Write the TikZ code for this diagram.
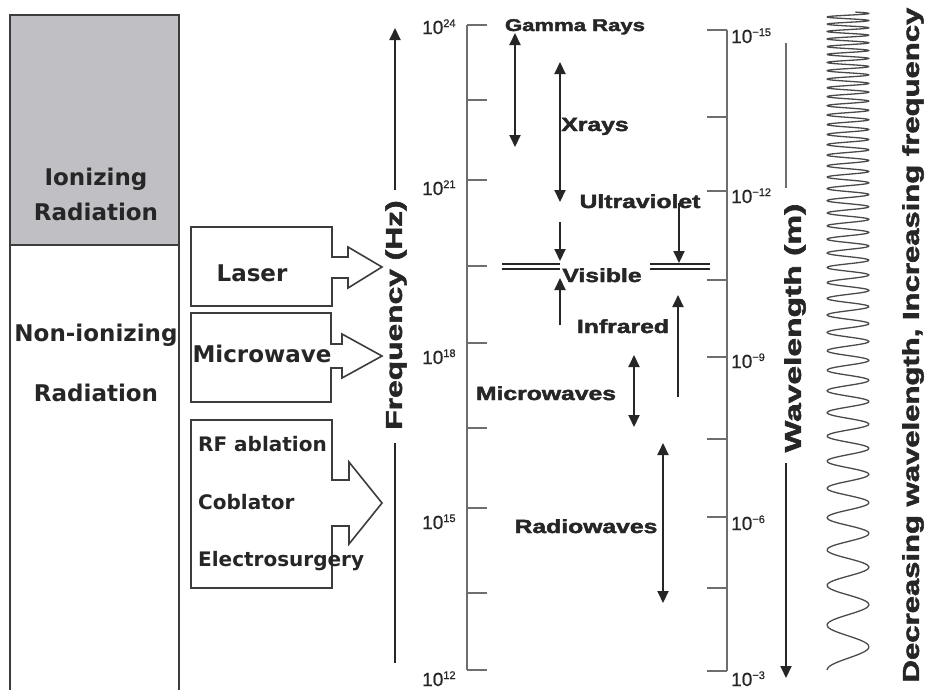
\documentclass[tikz,border=0pt]{standalone}
\usepackage{fontspec}
\usepackage{graphicx}
\usetikzlibrary{arrows.meta}
\newfontfamily\dvfont{DejaVu Sans}
\newfontfamily\lsfont{Liberation Sans}[FakeBold=0.6]
\newfontfamily\hvfont{Liberation Sans}[BoldFeatures={FakeBold=2}]
\definecolor{ink}{HTML}{262626}
\definecolor{axisc}{HTML}{6E6E6E}
\definecolor{boxline}{HTML}{3C3C3C}
\definecolor{ionfill}{HTML}{C0C0C4}
\definecolor{wavec}{HTML}{4A4A4A}
\newcommand\bandw[1]{\scalebox{1.3}[1]{#1}}
\newcommand\tenpow[1]{10\raisebox{7pt}{\fontsize{11}{11}\selectfont#1}}
\begin{document}
\begin{tikzpicture}[x=1pt,y=-1pt,
  >={Triangle[length=12pt,width=11pt]},
  lefttxt/.style={font=\dvfont\bfseries\fontsize{23}{26}\selectfont, text=ink, inner sep=0pt, anchor=base},
  rftxt/.style={font=\dvfont\bfseries\fontsize{20}{24}\selectfont, text=ink, inner sep=0pt, anchor=base west},
  bandtxt/.style={font=\hvfont\bfseries\fontsize{19}{22}\selectfont, text=ink, inner sep=0pt, anchor=base},
  axtitle/.style={font=\hvfont\bfseries\fontsize{23}{26}\selectfont, text=ink, inner sep=0pt, rotate=90},
  ticklbl/.style={font=\lsfont\fontsize{19}{21}\selectfont, text=ink, inner sep=0pt, anchor=base west},
  axisline/.style={draw=axisc, line width=2.4pt},
  rangearr/.style={draw=ink, line width=2pt, <->},
  onearr/.style={draw=ink, line width=2pt, ->},
  plainln/.style={draw=ink, line width=2pt},
  callout/.style={draw=boxline, line width=1.6pt, fill=white, line join=miter},
  wave/.style={draw=wavec, line width=1.3pt, line join=round},
  dbl/.style={draw=ink, line width=1.6pt}]
\useasboundingbox (0,0) rectangle (931,689);
\clip (0,0) rectangle (931,689);
\fill[white] (0,0) rectangle (931,689);

% left classification box
\fill[ionfill] (10,15) rectangle (179,245);
\draw[boxline, line width=1.8pt] (10,700) -- (10,15) -- (179,15) -- (179,700);
\draw[boxline, line width=1.8pt] (10,245) -- (179,245);
\node[lefttxt] (ion1) at (96,185) {Ionizing};
\node[lefttxt] (ion2) at (96,220) {Radiation};
\node[lefttxt] (non1) at (96,341) {Non-ionizing};
\node[lefttxt] (non2) at (96,401) {Radiation};

% callout boxes
\draw[callout] (191,227) -- (332,227) -- (332,257) -- (348,257) -- (348,247) -- (382,267)
  -- (348,288) -- (348,278) -- (332,278) -- (332,306) -- (191,306) -- cycle;
\node[lefttxt] (laser) at (252,281) {Laser};
\draw[callout] (191,313) -- (331,313) -- (331,344) -- (342,344) -- (342,334) -- (382,356)
  -- (342,378) -- (342,368) -- (331,368) -- (331,402) -- (191,402) -- cycle;
\node[lefttxt] (micro) at (262,362) {Microwave};
\draw[callout] (191,420) -- (332,420) -- (332,480) -- (349,480) -- (349,462) -- (382,503)
  -- (349,544) -- (349,526) -- (332,526) -- (332,588) -- (191,588) -- cycle;
\node[rftxt] (rf) at (198,451) {RF ablation};
\node[rftxt] (cob) at (198,509) {Coblator};
\node[rftxt] (elec) at (198,566) {Electrosurgery};

% frequency arrow and title
\node[axtitle] (freq) at (396,315) {\scalebox{1.38}[1]{Frequency (Hz)}};
\coordinate (fA) at (395,190); \coordinate (fB) at (395,28);
\coordinate (fC) at (395,443); \coordinate (fD) at (395,663);
\draw[onearr] (fA) -- (fB);
\draw[plainln] (fC) -- (fD);

% frequency axis
\draw[axisline] (467,25) -- (467,670);
\foreach \t in {25,100,180,266,343,428,508,593,670}
  \draw[axisline] (467,\t) -- (487,\t);
\node[ticklbl] (f24) at (422,34) {\tenpow{24}};
\node[ticklbl] (f21) at (422,195) {\tenpow{21}};
\node[ticklbl] (f18) at (422,364) {\tenpow{18}};
\node[ticklbl] (f15) at (422,529) {\tenpow{15}};
\node[ticklbl] (f12) at (422,686) {\tenpow{12}};

% wavelength axis
\draw[axisline] (727,30) -- (727,671);
\foreach \t in {30,117,191,280,357,439,517,588,671}
  \draw[axisline] (707,\t) -- (727,\t);
\node[ticklbl] (w15) at (731,43) {\tenpow{−15}};
\node[ticklbl] (w12) at (731,203) {\tenpow{−12}};
\node[ticklbl] (w9) at (731,368) {\tenpow{−9}};
\node[ticklbl] (w6) at (731,530) {\tenpow{−6}};
\node[ticklbl] (w3) at (731,686) {\tenpow{−3}};

% wavelength arrow and title
\node[axtitle] (wave) at (795,328) {\scalebox{1.46}[1]{Wavelength (m)}};
\coordinate (wA) at (786,43); \coordinate (wB) at (786,188);
\coordinate (wC) at (786,463); \coordinate (wD) at (786,678);
\draw[plainln, draw=axisc] (wA) -- (wB);
\draw[onearr] (wC) -- (wD);

% spectrum bands
\node[bandtxt, font=\hvfont\bfseries\fontsize{17}{20}\selectfont] (gam) at (575,31) {\bandw{Gamma Rays}};
\coordinate (gT) at (515,33); \coordinate (gB) at (515,147);
\draw[rangearr] (gT) -- (gB);

\node[bandtxt] (xr) at (595,131) {\bandw{Xrays}};
\coordinate (xT) at (560,62); \coordinate (xB) at (560,202);
\draw[rangearr] (xT) -- (xB);

\node[bandtxt] (uv) at (640,208) {\bandw{Ultraviolet}};
\coordinate (u1a) at (560,222); \coordinate (u1b) at (560,261);
\draw[onearr] (u1a) -- (u1b);
\coordinate (u2a) at (679,203); \coordinate (u2b) at (679,263);
\draw[onearr] (u2a) -- (u2b);

\coordinate (vL1) at (502,264); \coordinate (vL2) at (560,264);
\coordinate (vL3) at (502,269); \coordinate (vL4) at (560,269);
\draw[dbl] (vL1) -- (vL2); \draw[dbl] (vL3) -- (vL4);
\coordinate (vR1) at (650,264); \coordinate (vR2) at (710,264);
\coordinate (vR3) at (650,269); \coordinate (vR4) at (710,269);
\draw[dbl] (vR1) -- (vR2); \draw[dbl] (vR3) -- (vR4);
\node[bandtxt] (vis) at (602,282) {\bandw{Visible}};
\coordinate (v1a) at (560,325); \coordinate (v1b) at (560,278);
\draw[onearr] (v1a) -- (v1b);

\node[bandtxt] (ir) at (623,333) {\bandw{Infrared}};
\coordinate (irA) at (678,397); \coordinate (irB) at (678,295);
\draw[onearr] (irA) -- (irB);

\node[bandtxt] (mw) at (546,400) {\bandw{Microwaves}};
\coordinate (mT) at (634,355); \coordinate (mB) at (634,427);
\draw[rangearr] (mT) -- (mB);

\node[bandtxt] (rw) at (586,533) {\bandw{Radiowaves}};
\coordinate (rT) at (663,443); \coordinate (rB) at (663,603);
\draw[rangearr] (rT) -- (rB);

% chirped wave
\draw[wave] plot[domain=0:41.7, samples=700, smooth]
  ({848-21*cos(360*\x)}, {670-658*ln(1+\x/7.122)/1.925});

% right title
\node[axtitle] (dec) at (913,345) {\scalebox{1.35}[1]{Decreasing wavelength, Increasing frequency}};
\end{tikzpicture}
\end{document}
